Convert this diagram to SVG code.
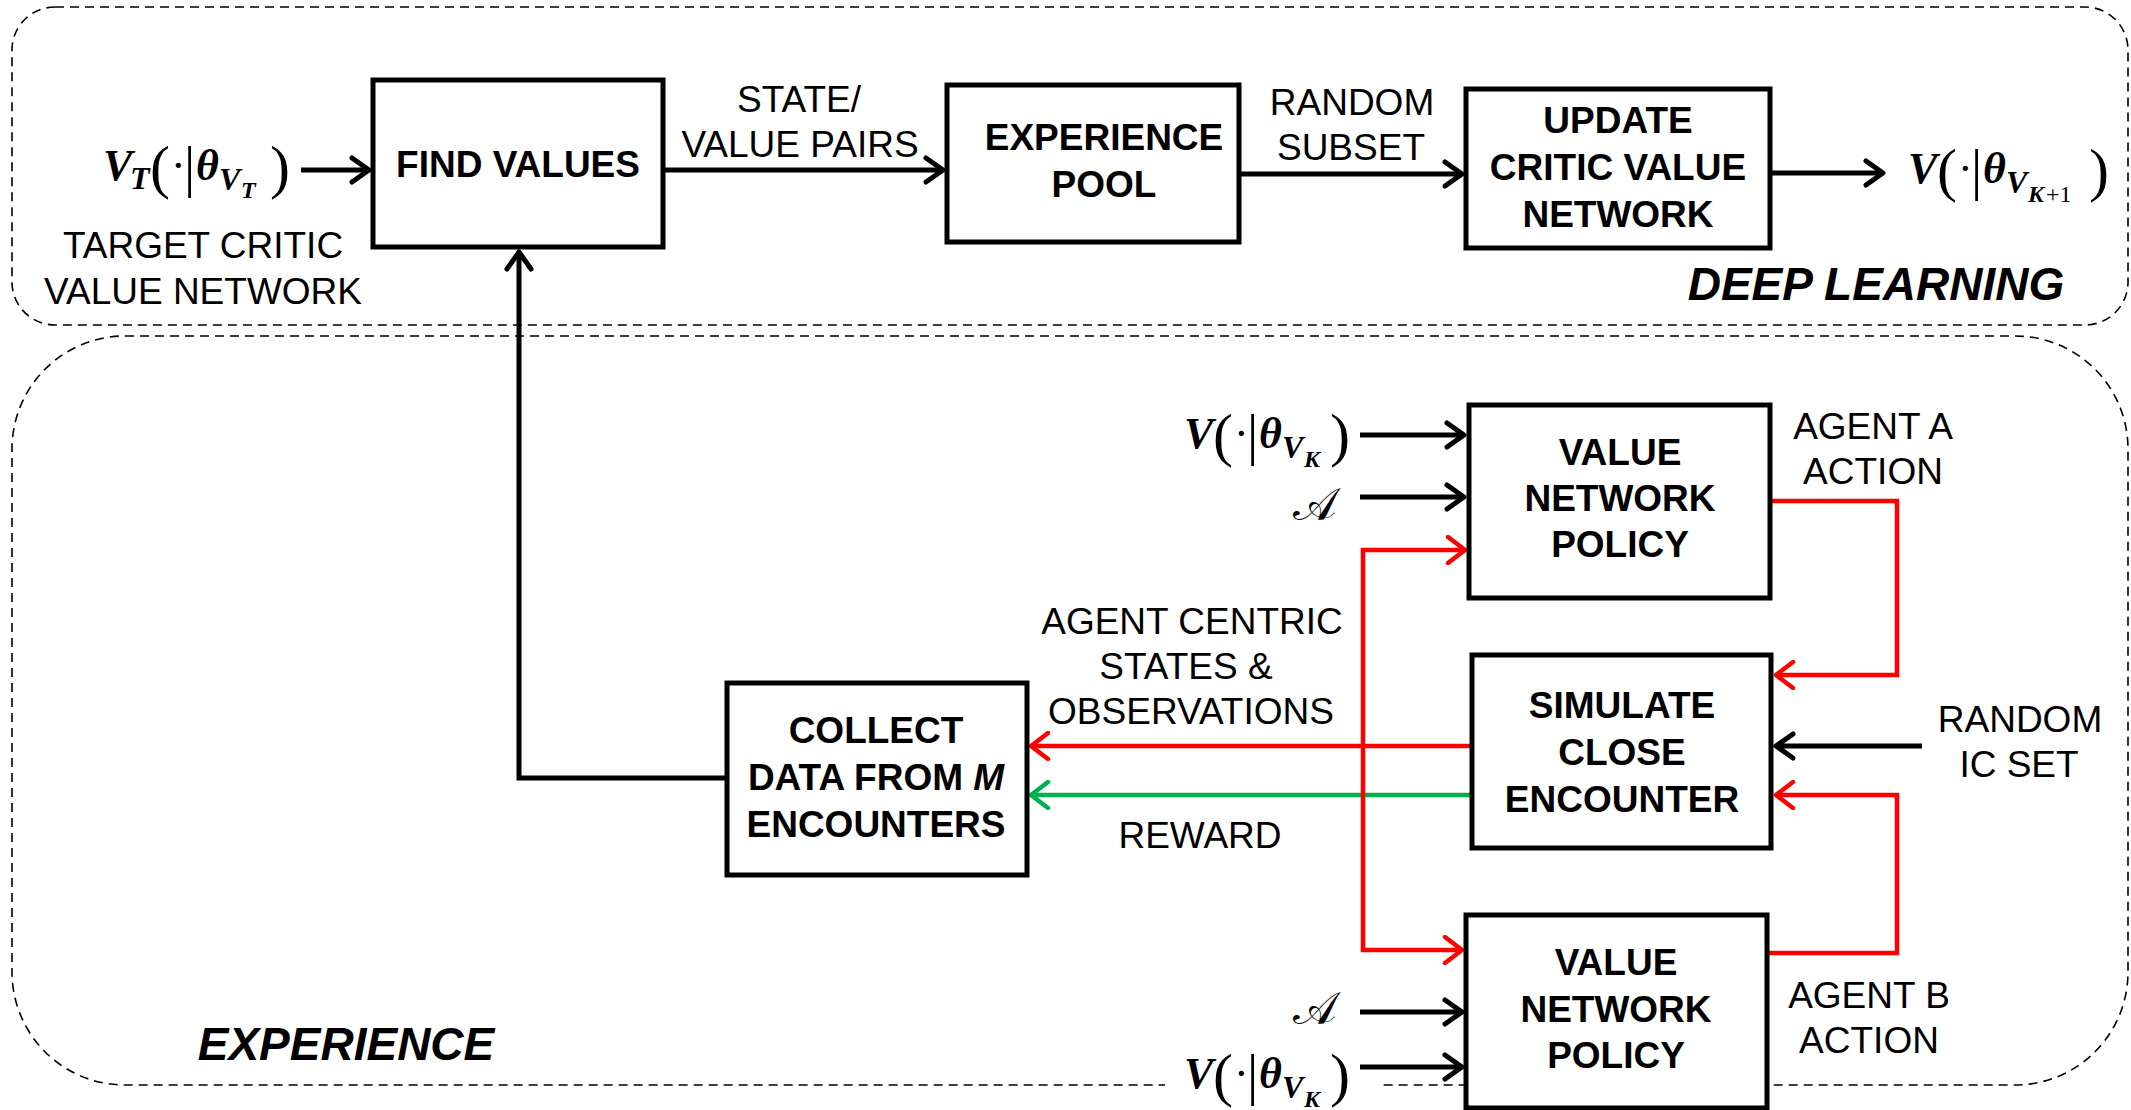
<svg xmlns="http://www.w3.org/2000/svg" width="2131" height="1110" viewBox="0 0 2131 1110">
<style>
.dash{fill:none;stroke:#000;stroke-width:1.6;stroke-dasharray:9 6}
.box{fill:#fff;stroke:#000;stroke-width:5}
.bl{font-family:"Liberation Sans",Arial,sans-serif;font-weight:bold;font-size:37px;text-anchor:middle;fill:#000}
.lb{font-family:"Liberation Sans",Arial,sans-serif;font-size:37px;text-anchor:middle;fill:#000}
.title{font-family:"Liberation Sans",Arial,sans-serif;font-weight:bold;font-style:italic;font-size:46px;text-anchor:middle;fill:#000}
.k{stroke:#000;stroke-width:5;fill:none}
.r{stroke:#ff0000;stroke-width:4.5;fill:none}
.g{stroke:#00b050;stroke-width:4.5;fill:none}
.m{font-family:"Liberation Serif","DejaVu Serif",serif;fill:#000}
.bi{font-weight:bold;font-style:italic}
.it{font-style:italic}
.sc{font-family:"DejaVu Serif","DejaVu Sans","Noto Sans",serif;font-size:46px;fill:#000}
</style>
<defs>
<marker id="ak" markerUnits="userSpaceOnUse" viewBox="-22 -15 26 30" markerWidth="26" markerHeight="30" refX="0" refY="0" orient="auto-start-reverse"><path d="M-17,-12 L0,0 L-17,12" fill="none" stroke="#000" stroke-width="5" stroke-linecap="round" stroke-linejoin="round"/></marker>
<marker id="ar" markerUnits="userSpaceOnUse" viewBox="-22 -15 26 30" markerWidth="26" markerHeight="30" refX="0" refY="0" orient="auto-start-reverse"><path d="M-17,-13 L0,0 L-17,13" fill="none" stroke="#ff0000" stroke-width="4.5" stroke-linecap="round" stroke-linejoin="round"/></marker>
<marker id="ag" markerUnits="userSpaceOnUse" viewBox="-22 -15 26 30" markerWidth="26" markerHeight="30" refX="0" refY="0" orient="auto-start-reverse"><path d="M-17,-13 L0,0 L-17,13" fill="none" stroke="#00b050" stroke-width="4.5" stroke-linecap="round" stroke-linejoin="round"/></marker>
</defs>

<g id="regions">
<rect class="dash" x="12" y="7" width="2116" height="318" rx="43"/>
<rect class="dash" x="12" y="336" width="2116" height="749" rx="113"/>
<text class="title" x="1876" y="300">DEEP LEARNING</text>
<text class="title" x="346" y="1060">EXPERIENCE</text>
</g>

<g id="connectors">
<path class="k" d="M301,170 H369" marker-end="url(#ak)"/>
<path class="k" d="M663,170 H943" marker-end="url(#ak)"/>
<path class="k" d="M1239,174 H1462" marker-end="url(#ak)"/>
<path class="k" d="M1770,173 H1883" marker-end="url(#ak)"/>
<path class="k" d="M727,778 H519 V252" marker-end="url(#ak)"/>
<path class="k" d="M1360,435 H1464" marker-end="url(#ak)"/>
<path class="k" d="M1360,497 H1464" marker-end="url(#ak)"/>
<path class="r" d="M1770,501 H1897 V675 H1776" marker-end="url(#ar)"/>
<path class="k" d="M1922,746 H1776" marker-end="url(#ak)"/>
<path class="r" d="M1767,953 H1897 V795 H1776" marker-end="url(#ar)"/>
<path class="r" d="M1472,746 H1031" marker-end="url(#ar)"/>
<path class="g" d="M1472,795 H1031" marker-end="url(#ag)"/>
<path class="r" d="M1465,550 H1363 V950 H1462" marker-start="url(#ar)" marker-end="url(#ar)"/>
<path class="k" d="M1360,1012 H1462" marker-end="url(#ak)"/>
<path class="k" d="M1360,1067 H1462" marker-end="url(#ak)"/>
</g>

<g id="find-values">
<rect class="box" x="373" y="80" width="290" height="167"/>
<text class="bl" x="518" y="177">FIND VALUES</text>
</g>
<g id="experience-pool">
<rect class="box" x="947" y="85" width="292" height="157"/>
<text class="bl" x="1104" y="150">EXPERIENCE</text>
<text class="bl" x="1104" y="197">POOL</text>
</g>
<g id="update-critic">
<rect class="box" x="1466" y="89" width="304" height="159"/>
<text class="bl" x="1618" y="133">UPDATE</text>
<text class="bl" x="1618" y="180">CRITIC VALUE</text>
<text class="bl" x="1618" y="227">NETWORK</text>
</g>
<g id="policy-a">
<rect class="box" x="1469" y="405" width="301" height="193"/>
<text class="bl" x="1620" y="465">VALUE</text>
<text class="bl" x="1620" y="511">NETWORK</text>
<text class="bl" x="1620" y="557">POLICY</text>
</g>
<g id="simulate">
<rect class="box" x="1472" y="655" width="299" height="193"/>
<text class="bl" x="1622" y="718">SIMULATE</text>
<text class="bl" x="1622" y="765">CLOSE</text>
<text class="bl" x="1622" y="812">ENCOUNTER</text>
</g>
<g id="collect">
<rect class="box" x="727" y="683" width="300" height="192"/>
<text class="bl" x="876" y="743">COLLECT</text>
<text class="bl" x="876" y="790">DATA FROM <tspan font-style="italic">M</tspan></text>
<text class="bl" x="876" y="837">ENCOUNTERS</text>
</g>
<g id="policy-b">
<rect x="1165" y="1072" width="213" height="26" fill="#fff"/>
<rect class="box" x="1466" y="915" width="301" height="193"/>
<text class="bl" x="1616" y="975">VALUE</text>
<text class="bl" x="1616" y="1022">NETWORK</text>
<text class="bl" x="1616" y="1068">POLICY</text>
</g>

<g id="labels">
<text class="lb" x="203" y="258">TARGET CRITIC</text>
<text class="lb" x="203" y="304">VALUE NETWORK</text>
<text class="lb" x="799" y="112">STATE/</text>
<text class="lb" x="800" y="157">VALUE PAIRS</text>
<text class="lb" x="1352" y="115">RANDOM</text>
<text class="lb" x="1351" y="160">SUBSET</text>
<text class="lb" x="1873" y="439">AGENT A</text>
<text class="lb" x="1873" y="484">ACTION</text>
<text class="lb" x="1192" y="634">AGENT CENTRIC</text>
<text class="lb" x="1186" y="679">STATES &amp;</text>
<text class="lb" x="1191" y="724">OBSERVATIONS</text>
<text class="lb" x="1200" y="848">REWARD</text>
<text class="lb" x="2020" y="732">RANDOM</text>
<text class="lb" x="2019" y="777">IC SET</text>
<text class="lb" x="1869" y="1008">AGENT B</text>
<text class="lb" x="1869" y="1053">ACTION</text>
</g>

<g id="math">
<text class="m" transform="translate(103,180)"><tspan class="bi" x="0" y="0" font-size="44">V</tspan><tspan class="bi" x="27" y="9" font-size="32">T</tspan><tspan x="47" y="7" font-size="60">(</tspan><tspan x="68" y="0" font-size="44">·</tspan><tspan x="81" y="6" font-size="56">|</tspan><tspan class="bi" x="93" y="0" font-size="44">θ</tspan><tspan class="bi" x="116" y="10" font-size="32">V</tspan><tspan class="bi" x="138" y="18" font-size="24">T</tspan><tspan x="167" y="7" font-size="60">)</tspan></text>
<text class="m" transform="translate(1908,183)"><tspan class="bi" x="0" y="0" font-size="44">V</tspan><tspan x="29" y="7" font-size="60">(</tspan><tspan x="50" y="0" font-size="44">·</tspan><tspan x="63" y="6" font-size="56">|</tspan><tspan class="bi" x="75" y="0" font-size="44">θ</tspan><tspan class="bi" x="98" y="10" font-size="32">V</tspan><tspan class="bi" x="120" y="19" font-size="24">K</tspan><tspan x="138" y="19" font-size="24">+1</tspan><tspan x="181" y="7" font-size="60">)</tspan></text>
<text class="m" transform="translate(1184,448)"><tspan class="bi" x="0" y="0" font-size="44">V</tspan><tspan x="29" y="7" font-size="60">(</tspan><tspan x="50" y="0" font-size="44">·</tspan><tspan x="63" y="6" font-size="56">|</tspan><tspan class="bi" x="75" y="0" font-size="44">θ</tspan><tspan class="bi" x="98" y="10" font-size="32">V</tspan><tspan class="bi" x="120" y="19" font-size="24">K</tspan><tspan x="146" y="7" font-size="60">)</tspan></text>
<text class="m" transform="translate(1184,1088)"><tspan class="bi" x="0" y="0" font-size="44">V</tspan><tspan x="29" y="7" font-size="60">(</tspan><tspan x="50" y="0" font-size="44">·</tspan><tspan x="63" y="6" font-size="56">|</tspan><tspan class="bi" x="75" y="0" font-size="44">θ</tspan><tspan class="bi" x="98" y="10" font-size="32">V</tspan><tspan class="bi" x="120" y="19" font-size="24">K</tspan><tspan x="146" y="7" font-size="60">)</tspan></text>
<text class="sc" x="1293" y="520">𝒜</text>
<text class="sc" x="1293" y="1024">𝒜</text>
</g>
</svg>
